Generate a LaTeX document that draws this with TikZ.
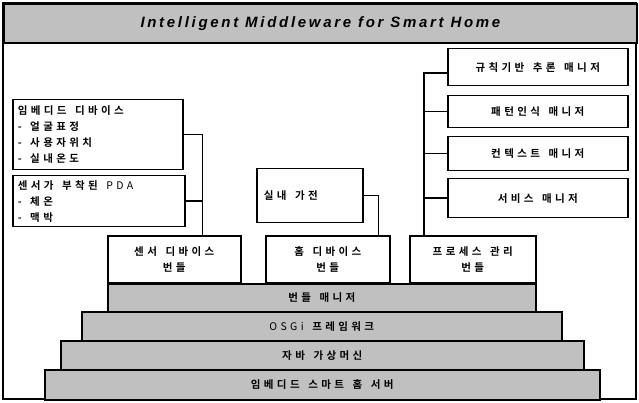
\documentclass[tikz,border=0pt]{standalone}
\usepackage{fontspec}
\setmainfont{Liberation Sans}
\newfontfamily\krfont[LetterSpace=32,WordSpace=1.5,
  BoldFont={Noto Sans CJK KR Bold}]{Noto Sans CJK KR}
\newfontfamily\ttlfont[LetterSpace=18]{Liberation Sans}
\usetikzlibrary{positioning,calc}
\definecolor{shGrey}{RGB}{192,192,192}

\begin{document}
\begin{tikzpicture}[
    x=1pt,y=-1pt,
    every node/.style={font=\krfont\bfseries\fontsize{10.5}{16}\selectfont},
    box/.style={rectangle,draw,line width=1.5pt,fill=white,inner sep=0pt,
                anchor=north west,align=center},
    leftB/.style={box,align=flush left,inner xsep=5pt},
    layerB/.style={box,fill=shGrey},
    wire/.style={line width=1.5pt}
  ]
  \useasboundingbox (0,0) rectangle (639,403);
  % frame and title
  \draw[line width=1.8pt] (3,3) rectangle (636,399);
  \node[box,fill=shGrey,line width=1.8pt,minimum width=633pt,minimum height=39pt,
        font=\ttlfont\bfseries\itshape\fontsize{15}{18}\selectfont]
        (title) at (3,3) {Intelligent Middleware for Smart Home};
  % left: devices
  \node[leftB,text width=160pt,minimum height=70pt] (emb) at (12,99)
        {임베디드 디바이스\\- 얼굴표정\\- 사용자위치\\- 실내온도};
  \node[leftB,text width=162pt,minimum height=51pt] (pda) at (12,175)
        {센서가 부착된 {\mdseries PDA}\\- 체온\\- 맥박};
  % middle: appliance
  \node[leftB,inner xsep=7pt,text width=92pt,minimum height=54pt] (appl) at (256,168)
        {실내 가전};
  % right: managers
  \node[box,minimum width=180pt,minimum height=37pt] (rule) at (447,48) {규칙기반 추론 매니저};
  \node[box,minimum width=180pt,minimum height=32pt] (pattern) at (447,95) {패턴인식 매니저};
  \node[box,minimum width=180pt,minimum height=34pt] (context) at (447,136) {컨텍스트 매니저};
  \node[box,minimum width=180pt,minimum height=39pt] (service) at (447,178) {서비스 매니저};
  % bundles
  \node[box,minimum width=133pt,minimum height=47pt] (sensorb) at (107,235) {센서 디바이스\\번들};
  \node[box,minimum width=124pt,minimum height=47pt] (homeb) at (265,235) {홈 디바이스\\번들};
  \node[box,minimum width=126pt,minimum height=47pt] (procb) at (409,235) {프로세스 관리\\번들};
  % layers
  \node[layerB,minimum width=428pt,minimum height=28pt] (bman) at (107,283) {번들 매니저};
  \node[layerB,minimum width=480pt,minimum height=29pt] (osgi) at (81,311)
        {\mdseries OSGi \bfseries 프레임워크};
  \node[layerB,minimum width=523pt,minimum height=29pt] (jvm) at (60,340) {자바 가상머신};
  \node[layerB,minimum width=555pt,minimum height=30pt] (server) at (44,369) {임베디드 스마트 홈 서버};
  % connectors
  \coordinate (sj) at ([xshift=-39]sensorb.north east);
  \coordinate (hj) at ([xshift=-12]homeb.north east);
  \coordinate (pj) at ([xshift=15]procb.north west);
  \draw[wire] (emb.east) -| (sj);
  \draw[wire] (pda.east) -| (sj);
  \draw[wire] (appl.east) -| (hj);
  \draw[wire] ([yshift=-6]rule.west) -| (pj);
  \foreach \n in {pattern,context,service}
    \draw[wire] (\n.west) -- (\n.west -| pj);
\end{tikzpicture}
\end{document}
